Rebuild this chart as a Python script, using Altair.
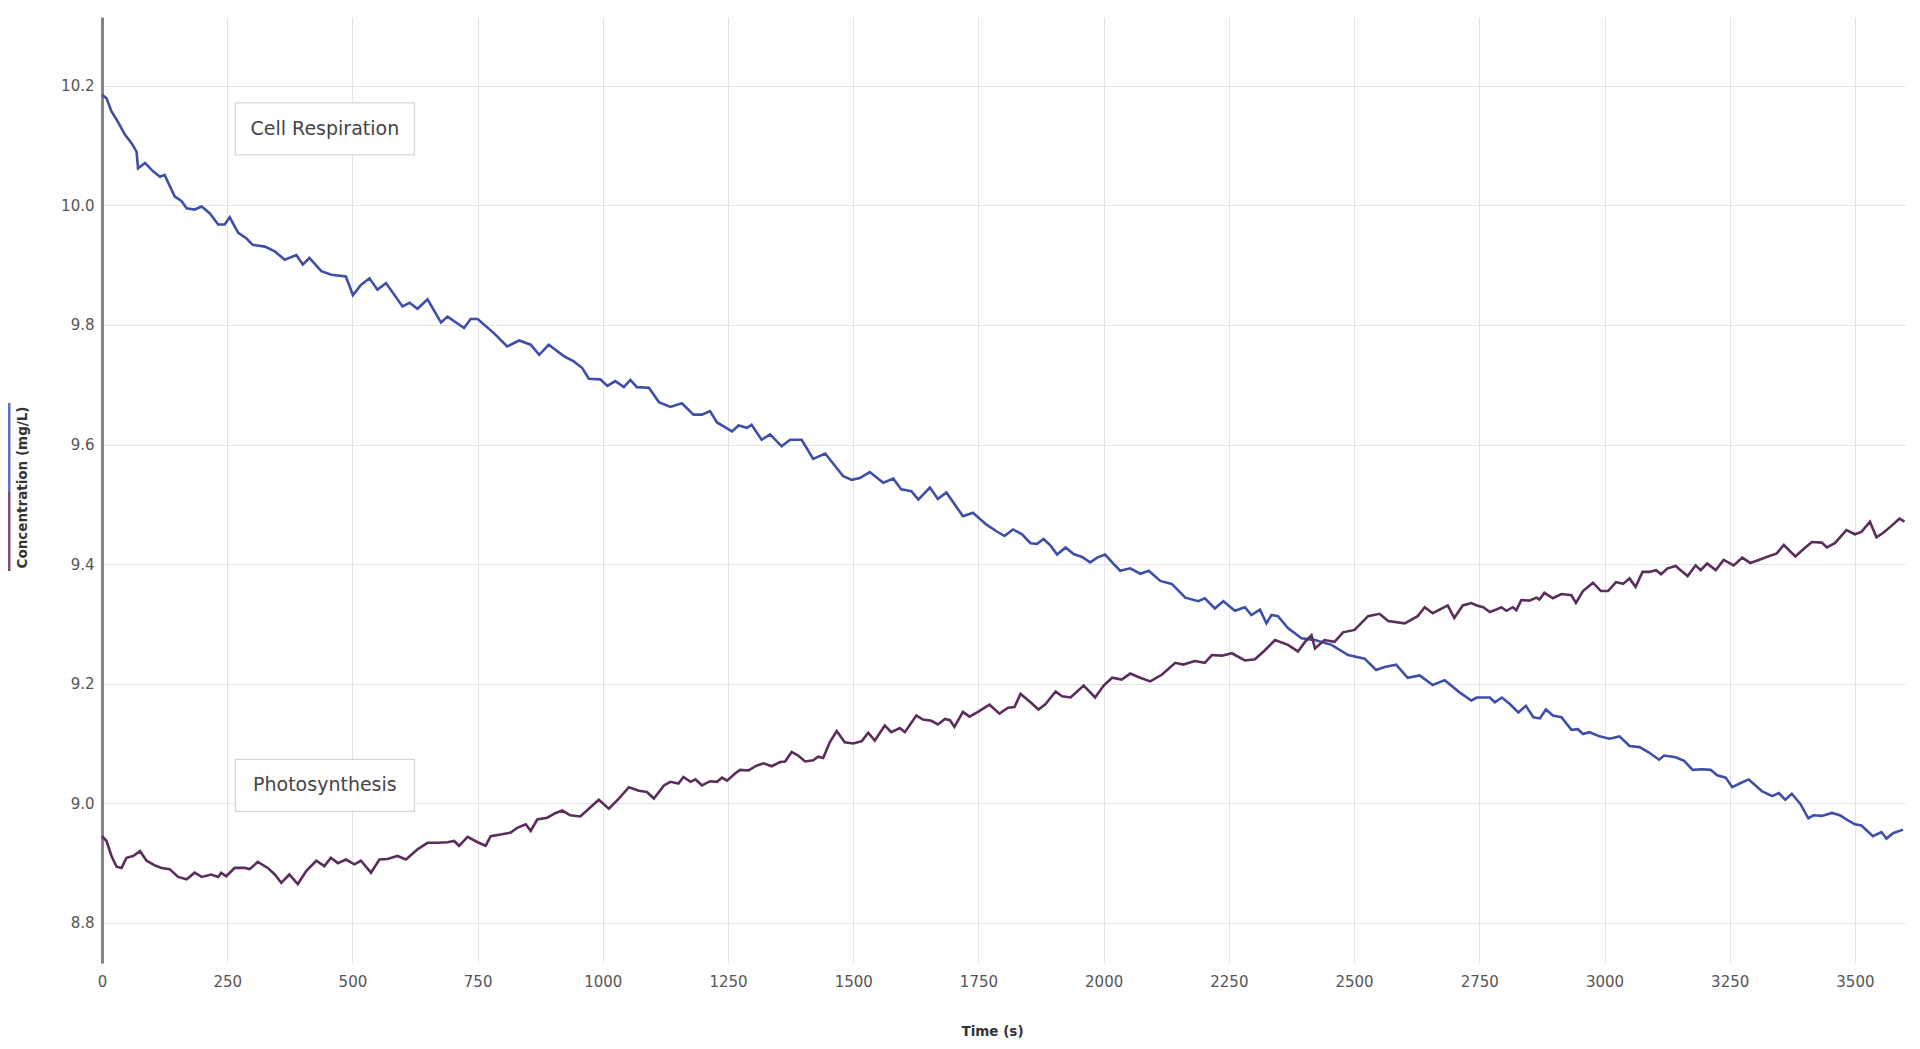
import altair as alt
import pandas as pd

# ---- data ----
resp_time = [0, 9, 19, 33, 46, 59, 69, 72, 86, 102, 116, 125, 145, 159, 169, 185, 199, 215, 232, 245,
             255, 272, 288, 301, 325, 345, 365, 388, 401, 414, 438, 458, 487, 501, 517, 534, 550, 567,
             600, 614, 630, 650, 677, 690, 723, 736, 750, 783, 809, 833, 856, 873, 892, 922, 942, 959,
             972, 995, 1009, 1025, 1042, 1055, 1068, 1092, 1112, 1135, 1158, 1181, 1198, 1214, 1228,
             1258, 1271, 1288, 1297, 1317, 1334, 1357, 1374, 1397, 1420, 1444, 1480, 1497, 1513, 1533,
             1560, 1580, 1596, 1616, 1630, 1653, 1669, 1686, 1719, 1739, 1766, 1786, 1802, 1819, 1837,
             1854, 1867, 1880, 1894, 1907, 1924, 1940, 1957, 1973, 1987, 2003, 2017, 2033, 2053, 2073,
             2090, 2113, 2136, 2163, 2189, 2202, 2222, 2239, 2262, 2282, 2295, 2312, 2325, 2335, 2348,
             2368, 2395, 2422, 2455, 2488, 2521, 2544, 2561, 2584, 2607, 2631, 2657, 2681, 2710, 2734,
             2745, 2771, 2781, 2795, 2811, 2828, 2843, 2858, 2871, 2883, 2897, 2914, 2934, 2947, 2957,
             2970, 2990, 3010, 3030, 3050, 3070, 3089, 3109, 3119, 3142, 3159, 3176, 3195, 3212, 3225,
             3242, 3255, 3272, 3288, 3315, 3335, 3348, 3361, 3374, 3391, 3407, 3417, 3434, 3454, 3470,
             3487, 3500, 3513, 3536, 3553, 3563, 3576, 3596]
resp_conc = [10.185, 10.179, 10.157, 10.138, 10.118, 10.104, 10.09, 10.062, 10.071, 10.057, 10.048,
             10.051, 10.015, 10.007, 9.995, 9.993, 9.998, 9.987, 9.968, 9.968, 9.98, 9.954, 9.945,
             9.934, 9.931, 9.923, 9.909, 9.917, 9.901, 9.912, 9.89, 9.884, 9.881, 9.85, 9.867, 9.878,
             9.859, 9.87, 9.831, 9.837, 9.827, 9.843, 9.804, 9.814, 9.795, 9.81, 9.81, 9.786, 9.764,
             9.774, 9.767, 9.75, 9.767, 9.748, 9.739, 9.728, 9.71, 9.709, 9.698, 9.706, 9.696, 9.708,
             9.696, 9.695, 9.671, 9.663, 9.669, 9.65, 9.65, 9.656, 9.637, 9.622, 9.632, 9.628, 9.633,
             9.608, 9.617, 9.597, 9.608, 9.608, 9.576, 9.585, 9.547, 9.541, 9.544, 9.554, 9.536, 9.543,
             9.525, 9.522, 9.508, 9.528, 9.509, 9.52, 9.48, 9.486, 9.466, 9.455, 9.447, 9.458, 9.45,
             9.435, 9.434, 9.442, 9.431, 9.416, 9.428, 9.417, 9.412, 9.403, 9.411, 9.416, 9.403, 9.389,
             9.393, 9.384, 9.389, 9.372, 9.367, 9.344, 9.338, 9.343, 9.326, 9.338, 9.322, 9.328, 9.315,
             9.324, 9.301, 9.315, 9.313, 9.293, 9.276, 9.273, 9.265, 9.248, 9.242, 9.223, 9.228, 9.232,
             9.21, 9.214, 9.198, 9.206, 9.186, 9.172, 9.177, 9.177, 9.169, 9.177, 9.166, 9.152, 9.163,
             9.144, 9.142, 9.157, 9.147, 9.144, 9.123, 9.124, 9.116, 9.119, 9.112, 9.108, 9.112, 9.096,
             9.094, 9.085, 9.073, 9.08, 9.077, 9.071, 9.056, 9.057, 9.056, 9.047, 9.043, 9.027, 9.034,
             9.04, 9.02, 9.012, 9.017, 9.006, 9.016, 8.999, 8.975, 8.98, 8.979, 8.984, 8.98, 8.971,
             8.965, 8.963, 8.945, 8.952, 8.941, 8.95, 8.956]

photo_time = [0, 9, 19, 29, 39, 49, 62, 76, 89, 106, 119, 135, 152, 169, 185, 199, 218, 232, 238, 248,
              265, 285, 295, 311, 331, 345, 358, 374, 391, 408, 428, 444, 457, 471, 487, 504, 517, 537,
              554, 570, 590, 607, 630, 650, 670, 690, 703, 713, 730, 750, 766, 776, 796, 816, 829, 846,
              856, 869, 889, 906, 919, 935, 955, 972, 992, 1012, 1032, 1052, 1072, 1088, 1102, 1122,
              1135, 1151, 1161, 1175, 1185, 1198, 1214, 1228, 1238, 1248, 1264, 1274, 1291, 1307, 1321,
              1337, 1354, 1364, 1377, 1390, 1404, 1420, 1430, 1440, 1453, 1467, 1483, 1500, 1517, 1530,
              1543, 1563, 1576, 1593, 1603, 1626, 1639, 1656, 1669, 1683, 1693, 1702, 1719, 1732, 1749,
              1772, 1792, 1809, 1822, 1834, 1854, 1870, 1884, 1904, 1917, 1934, 1960, 1983, 2000, 2017,
              2036, 2053, 2073, 2093, 2116, 2143, 2159, 2182, 2202, 2216, 2236, 2256, 2282, 2302, 2322,
              2342, 2368, 2388, 2402, 2415, 2422, 2441, 2461, 2478, 2501, 2528, 2551, 2568, 2601, 2627,
              2641, 2657, 2687, 2700, 2717, 2734, 2745, 2758, 2771, 2784, 2794, 2804, 2817, 2824, 2834,
              2850, 2864, 2870, 2880, 2897, 2914, 2934, 2943, 2957, 2977, 2993, 3007, 3023, 3037, 3050,
              3062, 3076, 3089, 3103, 3113, 3126, 3142, 3152, 3166, 3182, 3192, 3205, 3222, 3238, 3258,
              3275, 3291, 3308, 3321, 3344, 3358, 3381, 3397, 3414, 3434, 3444, 3460, 3483, 3500, 3513,
              3530, 3543, 3556, 3573, 3589, 3599]
photo_conc = [8.945, 8.937, 8.912, 8.894, 8.892, 8.909, 8.912, 8.92, 8.904, 8.896, 8.892, 8.89, 8.877,
              8.873, 8.884, 8.877, 8.881, 8.877, 8.884, 8.878, 8.892, 8.892, 8.89, 8.902, 8.892, 8.881,
              8.867, 8.881, 8.865, 8.887, 8.904, 8.895, 8.909, 8.9, 8.906, 8.898, 8.904, 8.884, 8.906,
              8.907, 8.912, 8.906, 8.923, 8.934, 8.934, 8.935, 8.937, 8.929, 8.944, 8.935, 8.929, 8.945,
              8.948, 8.951, 8.959, 8.965, 8.954, 8.973, 8.976, 8.984, 8.988, 8.98, 8.978, 8.991, 9.006,
              8.991, 9.008, 9.027, 9.021, 9.019, 9.008, 9.03, 9.036, 9.033, 9.044, 9.036, 9.04, 9.03,
              9.037, 9.036, 9.043, 9.038, 9.05, 9.056, 9.055, 9.063, 9.067, 9.062, 9.069, 9.07, 9.086,
              9.08, 9.07, 9.072, 9.078, 9.076, 9.102, 9.121, 9.102, 9.1, 9.104, 9.118, 9.105, 9.13,
              9.119, 9.126, 9.119, 9.147, 9.14, 9.138, 9.132, 9.141, 9.139, 9.128, 9.153, 9.145, 9.153,
              9.165, 9.15, 9.16, 9.161, 9.183, 9.169, 9.157, 9.166, 9.187, 9.179, 9.177, 9.197, 9.177,
              9.197, 9.21, 9.207, 9.217, 9.21, 9.204, 9.215, 9.235, 9.232, 9.238, 9.235, 9.248, 9.247,
              9.251, 9.239, 9.241, 9.256, 9.273, 9.265, 9.254, 9.27, 9.281, 9.259, 9.273, 9.27, 9.286,
              9.29, 9.313, 9.317, 9.305, 9.301, 9.313, 9.328, 9.318, 9.331, 9.31, 9.331, 9.335, 9.331,
              9.328, 9.32, 9.324, 9.328, 9.322, 9.328, 9.323, 9.34, 9.339, 9.344, 9.341, 9.352, 9.343,
              9.35, 9.348, 9.335, 9.355, 9.369, 9.355, 9.355, 9.37, 9.367, 9.376, 9.362, 9.387, 9.387,
              9.39, 9.383, 9.393, 9.397, 9.39, 9.38, 9.398, 9.39, 9.401, 9.39, 9.407, 9.398, 9.411,
              9.402, 9.407, 9.411, 9.418, 9.432, 9.413, 9.425, 9.437, 9.436, 9.428, 9.435, 9.457, 9.45,
              9.454, 9.471, 9.445, 9.452, 9.464, 9.476, 9.471]

series_names = ["Cell Respiration", "Photosynthesis"]
series_colors = ["#3e4fa7", "#5b2d5d"]
x_ticks = [0, 250, 500, 750, 1000, 1250, 1500, 1750, 2000, 2250, 2500, 2750, 3000, 3250, 3500]
y_ticks = [8.8, 9.0, 9.2, 9.4, 9.6, 9.8, 10.0, 10.2]
label_text = ["Cell Respiration", "Photosynthesis"]
label_time = [445, 445]
label_conc = [10.128, 9.03]

df = pd.concat([
    pd.DataFrame({"time": resp_time, "conc": resp_conc, "series": series_names[0]}),
    pd.DataFrame({"time": photo_time, "conc": photo_conc, "series": series_names[1]}),
], ignore_index=True)
labels = pd.DataFrame({"time": label_time, "conc": label_conc, "text": label_text})

FONT = "DejaVu Sans"

x_enc = alt.X(
    "time:Q",
    scale=alt.Scale(domain=[0, 3600], nice=False, zero=False),
    axis=alt.Axis(values=x_ticks, format="d", title="Time (s)", domain=False, ticks=False,
                  labelFlush=False, labelPadding=11, titleY=68, titleX=890,
                  titleBaseline="middle"),
)
y_enc = alt.Y(
    "conc:Q",
    scale=alt.Scale(domain=[8.733, 10.315], nice=False, zero=False),
    axis=alt.Axis(values=y_ticks, format=".1f", title="Concentration (mg/L)",
                  domain=True, domainColor="#858585", domainWidth=3, ticks=False,
                  labelFlush=False, labelPadding=8, titleX=-80, titleY=470,
                  titleBaseline="middle"),
)

lines = alt.Chart(df).mark_line(strokeWidth=2.6, interpolate="linear").encode(
    x=x_enc,
    y=y_enc,
    color=alt.Color("series:N", scale=alt.Scale(domain=series_names, range=series_colors), legend=None),
)

boxes = alt.Chart(labels).mark_rect(width=179, height=52, fill="white", stroke="#d6d6d6",
                                    strokeWidth=1.2).encode(x=x_enc, y=y_enc)
texts = alt.Chart(labels).mark_text(font=FONT, fontSize=19, color="#444444").encode(
    x=x_enc, y=y_enc, text="text:N")

bar_blue = alt.Chart(pd.DataFrame({"s": [0]})).mark_rule(color="#5c70c4", strokeWidth=3).encode(
    x=alt.value(-93), y=alt.value(386), y2=alt.value(475))
bar_purple = alt.Chart(pd.DataFrame({"s": [0]})).mark_rule(color="#7a4f78", strokeWidth=3).encode(
    x=alt.value(-93), y=alt.value(475), y2=alt.value(554))

chart = alt.layer(lines, boxes, texts, bar_blue, bar_purple).properties(
    width=1803,
    height=946,
    autosize=alt.AutoSizeParams(type="none"),
    padding={"left": 94, "top": 9, "right": 5, "bottom": 84},
).configure_view(stroke=None).configure_axis(
    labelFont=FONT,
    labelFontSize=15,
    labelColor="#555555",
    titleFont=FONT,
    titleFontSize=13.5,
    titleFontWeight="bold",
    titleColor="#333333",
    gridColor="#e4e4e4",
    gridWidth=1,
)

chart.save("out.html", embed_options={"renderer": "svg", "actions": False})
